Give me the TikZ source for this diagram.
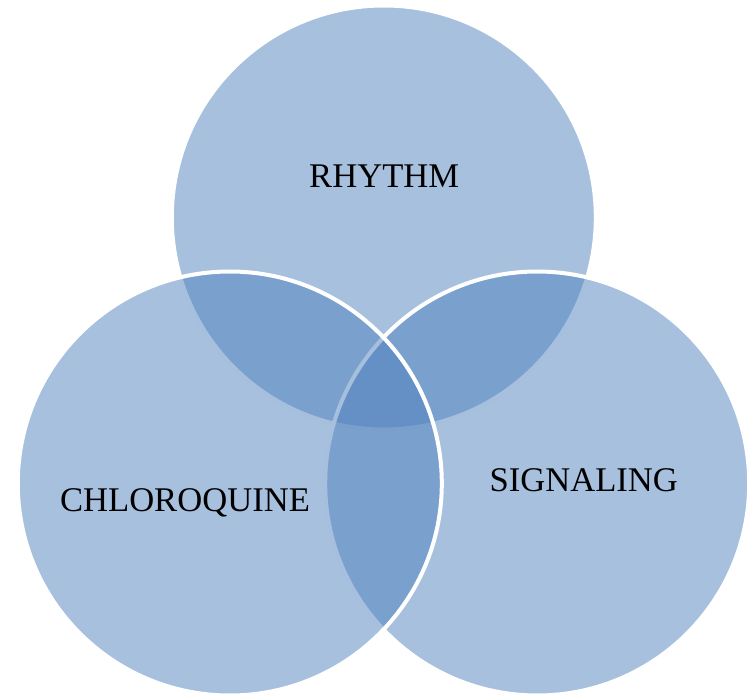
\documentclass[tikz,border=0pt]{standalone}
\usepackage{fontspec}
\setmainfont{Liberation Serif}
\definecolor{vennblue}{HTML}{4F81BD}
\tikzset{
  venncircle/.style={circle, draw=white, line width=2pt, fill=vennblue, fill opacity=0.5, draw opacity=1, minimum size=212pt, inner sep=0pt, outer sep=0pt},
  vennlabel/.style={anchor=base, inner sep=0pt, font=\fontsize{17.3pt}{20pt}\selectfont, text=black}
}
\begin{document}
\begin{tikzpicture}[x=0.5pt,y=-0.5pt]
\useasboundingbox (0,0) rectangle (755,695);
\node[venncircle] (top) at (383.8,217.5) {};
\node[venncircle] (right) at (537.2,483.5) {};
\node[venncircle] (left) at (229.8,483.5) {};
\node[vennlabel] (rhythm) at (384.2,187.7) {RHYTHM};
\node[vennlabel] (chloro) at (185,511.7) {CHLOROQUINE};
\node[vennlabel] (signal) at (583.8,491.7) {SIGNALING};
\end{tikzpicture}
\end{document}
